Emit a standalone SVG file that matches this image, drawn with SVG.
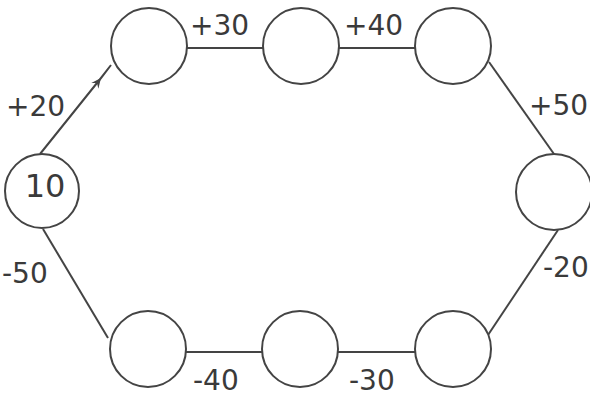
<svg xmlns="http://www.w3.org/2000/svg" width="590" height="397" viewBox="0 0 590 397">
  <defs>
    <style>
      .node { fill: #ffffff; stroke: #444444; stroke-width: 2; }
      .edge { fill: none; stroke: #444444; stroke-width: 2; }
      .lbl { font-family: "DejaVu Sans", "Liberation Sans", sans-serif; font-size: 28px; fill: #3a3a3a; }
      .val { font-family: "DejaVu Sans", "Liberation Sans", sans-serif; font-size: 32px; fill: #3a3a3a; text-anchor: middle; }
    </style>
    <marker id="arrow" viewBox="-10 -5 12 10" refX="0" refY="0" markerWidth="12" markerHeight="10" markerUnits="userSpaceOnUse" orient="auto">
      <path d="M0,0 L-10,-4.5 L-6.5,0 L-10,4.5 Z" fill="#444444"/>
    </marker>
  </defs>
  <rect x="0" y="0" width="590" height="397" fill="#ffffff"/>

  <g id="connectors">
    <path class="edge" d="M40,154 L101,78 L111,65" marker-mid="url(#arrow)"/>
    <line class="edge" x1="187" y1="48" x2="263" y2="48"/>
    <line class="edge" x1="339" y1="48" x2="415" y2="48"/>
    <line class="edge" x1="489" y1="62" x2="554" y2="154"/>
    <line class="edge" x1="558" y1="230" x2="488" y2="335"/>
    <line class="edge" x1="415" y1="352" x2="338" y2="352"/>
    <line class="edge" x1="262" y1="352" x2="186" y2="352"/>
    <line class="edge" x1="108" y1="338" x2="43" y2="229"/>
  </g>

  <g id="edge-labels">
    <text class="lbl" x="6" y="116">+20</text>
    <text class="lbl" x="190" y="35">+30</text>
    <text class="lbl" x="344" y="35">+40</text>
    <text class="lbl" x="529" y="115">+50</text>
    <text class="lbl" x="543" y="277">-20</text>
    <text class="lbl" x="349" y="390">-30</text>
    <text class="lbl" x="193" y="390">-40</text>
    <text class="lbl" x="2" y="283">-50</text>
  </g>

  <g id="n-left">
    <circle class="node" cx="42" cy="191" r="37"/>
    <text class="val" x="45" y="197">10</text>
  </g>
  <g id="n-top1"><circle class="node" cx="149" cy="46" r="38"/></g>
  <g id="n-top2"><circle class="node" cx="301" cy="46" r="38"/></g>
  <g id="n-top3"><circle class="node" cx="453" cy="46" r="38"/></g>
  <g id="n-right"><circle class="node" cx="554" cy="192" r="38"/></g>
  <g id="n-bot3"><circle class="node" cx="453" cy="349" r="38"/></g>
  <g id="n-bot2"><circle class="node" cx="300" cy="349" r="38"/></g>
  <g id="n-bot1"><circle class="node" cx="148" cy="349" r="38"/></g>
</svg>
